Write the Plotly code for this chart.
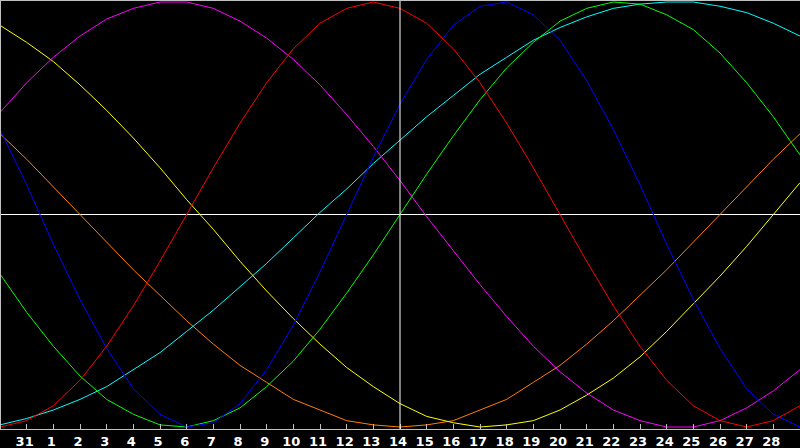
import plotly.graph_objects as go

# day offsets across the window (0 = Jan 30 ... 30 = Mar 1)
days = list(range(31))
tick_days = list(range(1, 30))
tick_labels = ["31"] + [str(d) for d in range(1, 29)]
today = 15  # Feb 14

# cycle values in percent, one per day
red = [-100, -97, -90, -78, -62, -43, -22, 0, 22, 43, 62, 78, 90, 97, 100, 97,
       90, 78, 62, 43, 22, 0, -22, -43, -62, -78, -90, -97, -100, -97, -90]
blue = [40, 14, -14, -40, -63, -82, -94, -100, -98, -89, -73, -52, -27, 0, 27, 52,
        73, 89, 98, 100, 94, 82, 63, 40, 14, -14, -40, -63, -82, -94, -100]
green = [-28, -46, -62, -76, -87, -94, -99, -100, -97, -91, -81, -69, -54, -37, -19, 0,
         19, 37, 54, 69, 81, 91, 97, 100, 99, 94, 87, 76, 62, 46, 28]
magenta = [48, 62, 74, 84, 92, 97, 100, 100, 97, 91, 83, 73, 61, 47, 32, 16,
           -1, -17, -33, -48, -62, -74, -84, -92, -97, -100, -100, -97, -91, -83, -73]
yellow = [89, 81, 72, 61, 49, 36, 22, 7, -7, -22, -36, -49, -61, -72, -81, -89,
          -95, -98, -100, -99, -97, -92, -85, -77, -67, -55, -42, -29, -15, 0, 15]
orange = [38, 26, 13, 0, -13, -26, -38, -50, -61, -71, -79, -87, -92, -97, -99, -100,
          -99, -97, -92, -87, -79, -71, -61, -50, -38, -26, -13, 0, 13, 26, 38]
cyan = [-99, -96, -92, -87, -81, -73, -65, -55, -45, -34, -23, -11, 1, 12, 24, 35,
        46, 56, 66, 74, 82, 88, 93, 97, 99, 100, 100, 98, 95, 90, 84]

series = [
    ("orange", orange, "#ff8000"),
    ("cyan", cyan, "#00ffff"),
    ("yellow", yellow, "#ffff00"),
    ("magenta", magenta, "#ff00ff"),
    ("green", green, "#00ff00"),
    ("blue", blue, "#0000ff"),
    ("red", red, "#ff0000"),
]

fig = go.Figure()
for name, vals, col in series:
    fig.add_trace(go.Scatter(x=days, y=vals, mode="lines", name=name,
                             line=dict(color=col, width=1), hoverinfo="skip"))

fig.add_vline(x=today, line=dict(color="#ffffff", width=1))

fig.update_layout(
    width=800, height=448,
    margin=dict(l=1, r=0, t=1, b=19),
    paper_bgcolor="#000000", plot_bgcolor="#000000",
    showlegend=False,
    font=dict(family="DejaVu Sans", size=13, color="#ffffff", weight="bold"),
    xaxis=dict(range=[0.0375, 30], tickvals=tick_days, ticktext=tick_labels,
               ticks="inside", ticklen=5, tickcolor="#c0c0c0", tickwidth=1,
               showline=True, linecolor="#c0c0c0", linewidth=1, mirror=True,
               showgrid=False, zeroline=False, ticklabelshift=-2,
               tickfont=dict(color="#ffffff", size=13)),
    yaxis=dict(range=[-100.94, 100.47], showticklabels=False, ticks="",
               showline=True, linecolor="#c0c0c0", linewidth=1,
               showgrid=False, zeroline=True, zerolinecolor="#ffffff", zerolinewidth=1),
)

fig.write_html(
    "out.html",
    config={"displayModeBar": False},
    post_script="document.body.style.margin='0';document.body.style.background='#000';",
)
